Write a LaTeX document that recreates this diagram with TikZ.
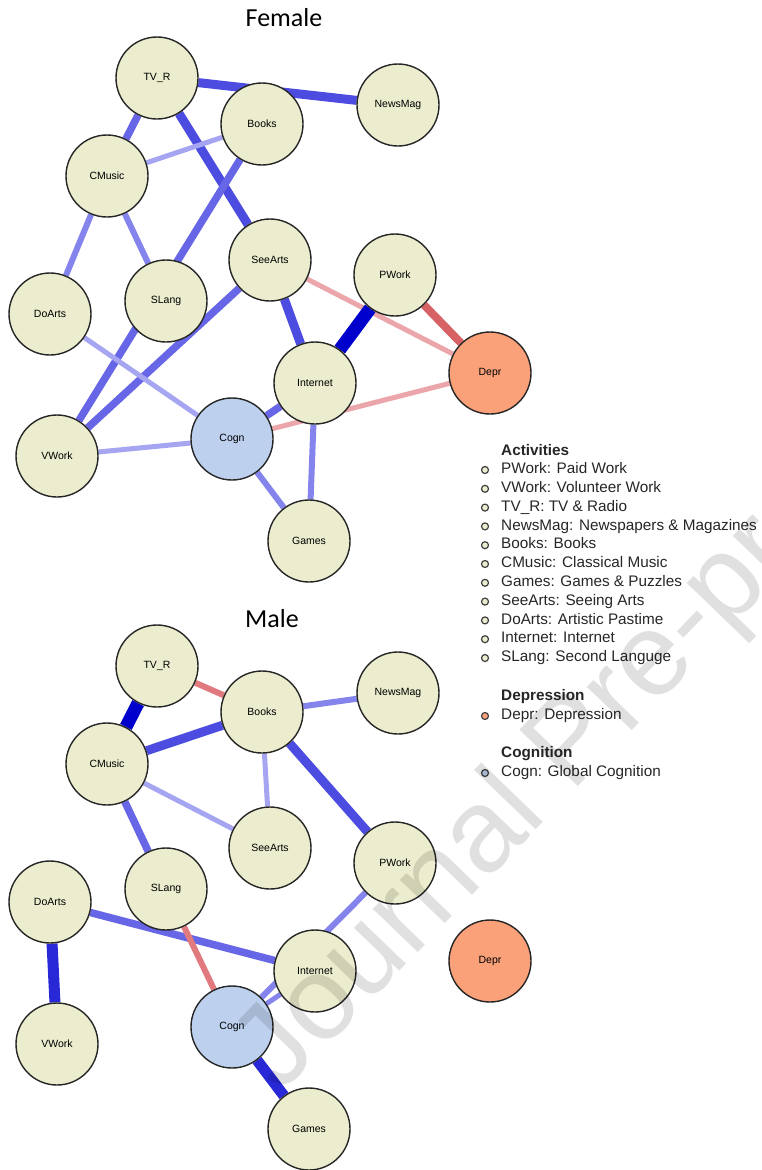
\documentclass[tikz,border=0pt]{standalone}
\usepackage{fontspec}
\setmainfont{Liberation Sans}
\newfontfamily\titlefont{Carlito}
\usetikzlibrary{backgrounds}
\definecolor{actfill}{RGB}{236,236,206}
\definecolor{cogfill}{RGB}{189,209,238}
\definecolor{depfill}{RGB}{250,161,121}
\definecolor{edgeA}{RGB}{0,0,205}
\definecolor{edgeB}{RGB}{40,40,215}
\definecolor{edgeC}{RGB}{76,76,225}
\definecolor{edgeD}{RGB}{102,102,230}
\definecolor{edgeE}{RGB}{132,132,236}
\definecolor{edgeF}{RGB}{165,165,242}
\definecolor{redA}{RGB}{214,98,102}
\definecolor{redB}{RGB}{224,122,126}
\definecolor{redC}{RGB}{234,166,170}

\begin{document}
\begin{tikzpicture}[x=1pt,y=-1pt,line cap=butt,
  act/.style={circle,draw=black!85,line width=1.4pt,fill=actfill,minimum size=82pt,
    inner sep=0pt,font=\fontsize{10.5}{12}\selectfont},
  cog/.style={act,fill=cogfill},
  dep/.style={act,fill=depfill},
  wA/.style={edgeA,line width=13pt},
  wB/.style={edgeB,line width=11pt},
  wC/.style={edgeC,line width=9pt},
  wD/.style={edgeD,line width=7.5pt},
  wE/.style={edgeE,line width=6pt},
  wF/.style={edgeF,line width=5pt},
  nA/.style={redA,line width=8pt},
  nB/.style={redB,line width=6pt},
  nC/.style={redC,line width=5pt},
  bul/.style={circle,draw=black!75,line width=1.2pt,minimum size=7pt,inner sep=0pt},
  lgd/.style={anchor=west,inner sep=0pt,text height=10.5pt,text depth=3pt,
    text=black!85,font=\fontsize{15.3}{18}\selectfont},
  ttl/.style={font=\titlefont\fontsize{26}{30}\selectfont}]
\useasboundingbox (0,0) rectangle (762,1170);
% ================= titles =================
\node[ttl] (fTitle) at (284,18) {Female};
\node[ttl] (mTitle) at (272,619) {Male};
% ================= nodes, same layout in both panels =================
\foreach \p/\dy in {f/0,m/588} {
  \node[act] (\p TV)    at (157,78+\dy)  {TV\_R};
  \node[act] (\p Books) at (262,124+\dy) {Books};
  \node[act] (\p News)  at (398,105+\dy) {NewsMag};
  \node[act] (\p CMus)  at (107,176+\dy) {CMusic};
  \node[act] (\p See)   at (270,260+\dy) {SeeArts};
  \node[act] (\p PW)    at (395,275+\dy) {PWork};
  \node[act] (\p SL)    at (166,301+\dy) {SLang};
  \node[act] (\p DoA)   at (50,314+\dy)  {DoArts};
  \node[act] (\p Int)   at (315,383+\dy) {Internet};
  \node[dep] (\p Depr)  at (490,373+\dy) {Depr};
  \node[cog] (\p Cogn)  at (232,439+\dy) {Cogn};
  \node[act] (\p VW)    at (57,456+\dy)  {VWork};
  \node[act] (\p Games) at (309,541+\dy) {Games};
}
\begin{scope}[on background layer]
% ================= female edges =================
\draw[wC] (fTV) -- (fNews);
\draw[wD] (fTV) -- (fCMus);
\draw[wC] (fTV) -- (fSee);
\draw[wF] (fCMus) -- (fBooks);
\draw[wE] (fCMus) -- (fDoA);
\draw[wE] (fCMus) -- (fSL);
\draw[wD] (fBooks) -- (fVW);
\draw[wD] (fSee) -- (fVW);
\draw[wC] (fSee) -- (fInt);
\draw[nC] (fSee) -- (fDepr);
\draw[wA] (fPW) -- (fInt);
\draw[nA] (fPW) -- (fDepr);
\draw[nC] (fCogn) -- (fDepr);
\draw[wD] (fCogn) -- (fInt);
\draw[wE] (fInt) -- (fGames);
\draw[wE] (fCogn) -- (fGames);
\draw[wF] (fCogn) -- (fVW);
\draw[wF] (fDoA) -- (fCogn);
% ================= male edges =================
\draw[nB] (mTV) -- (mBooks);
\draw[wA] (mTV) -- (mCMus);
\draw[wC] (mCMus) -- (mBooks);
\draw[wE] (mBooks) -- (mNews);
\draw[wF] (mBooks) -- (mSee);
\draw[wC] (mBooks) -- (mPW);
\draw[wF] (mCMus) -- (mSee);
\draw[wD] (mCMus) -- (mSL);
\draw[wE] (mPW) -- (mCogn);
\draw[wE,line width=5pt] (mInt) -- (mCogn);
\draw[wD] (mDoA) -- (mInt);
\draw[wB] (mDoA) -- (mVW);
\draw[nB] (mSL) -- (mCogn);
\draw[wB] (mCogn) -- (mGames);
\end{scope}
% ================= legend =================
\node[lgd,font=\fontsize{15.3}{18}\selectfont\bfseries] (hAct) at (501,452) {Activities};
\foreach \t [count=\i] in {PWork: Paid Work,VWork: Volunteer Work,TV\_R: TV \& Radio,
    NewsMag: Newspapers \& Magazines,Books: Books,CMusic: Classical Music,
    Games: Games \& Puzzles,SeeArts: Seeing Arts,DoArts: Artistic Pastime,
    Internet: Internet,SLang: Second Languge} {
  \node[bul,fill=actfill] (b\i) at (485,451.2+18.8*\i) {};
  \node[lgd] (t\i) at (501,451.2+18.8*\i) {\t};
}
\node[lgd,font=\fontsize{15.3}{18}\selectfont\bfseries] (hDep) at (501,697) {Depression};
\node[bul,fill=depfill] (bDep) at (485,716) {};
\node[lgd] (tDep) at (501,716) {Depr: Depression};
\node[lgd,font=\fontsize{15.3}{18}\selectfont\bfseries] (hCog) at (501,754) {Cognition};
\node[bul,fill=cogfill] (bCog) at (485,773) {};
\node[lgd] (tCog) at (501,773) {Cogn: Global Cognition};
% ================= watermark =================
\node[anchor=base west,rotate=46,inner sep=0pt,text=black,opacity=0.12,
  font=\fontsize{118}{118}\selectfont] (wm) at (280,1095) {Journal Pre-proof};
\end{tikzpicture}
\end{document}
